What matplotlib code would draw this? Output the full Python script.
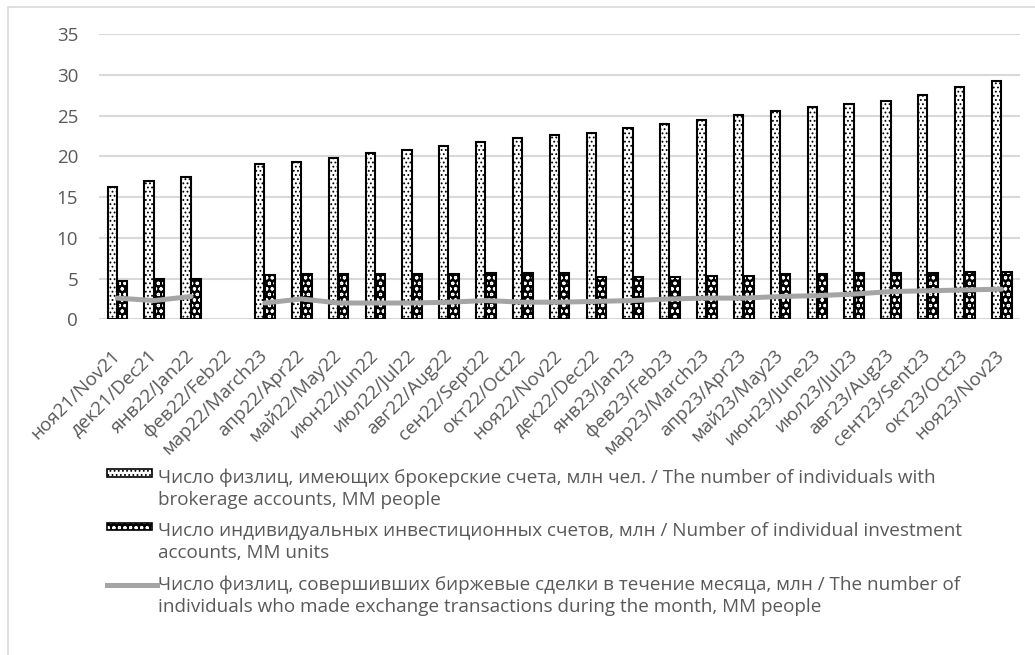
import numpy as np
import matplotlib
matplotlib.use('Agg')
import matplotlib.pyplot as plt
from matplotlib.patches import Rectangle
from matplotlib.lines import Line2D

plt.rcParams['font.family'] = ['Open Sans', 'DejaVu Sans']
plt.rcParams['hatch.linewidth'] = 0.8

months = ['ноя21/Nov21', 'дек21/Dec21', 'янв22/Jan22', 'фев22/Feb22', 'мар22/March23',
          'апр22/Apr22', 'май22/May22', 'июн22/Jun22', 'июл22/Jul22', 'авг22/Aug22',
          'сен22/Sept22', 'окт22/Oct22', 'ноя22/Nov22', 'дек22/Dec22', 'янв23/Jan23',
          'фев23/Feb23', 'мар23/March23', 'апр23/Apr23', 'май23/May23', 'июн23/June23',
          'июл23/Jul23', 'авг23/Aug23', 'сент23/Sent23', 'окт23/Oct23', 'ноя23/Nov23']

# brokerage accounts, MM people (no data for Feb22)
brokerage = [16.2, 17.0, 17.4, np.nan, 19.0, 19.3, 19.8, 20.4, 20.8, 21.2,
             21.7, 22.2, 22.6, 22.9, 23.5, 24.0, 24.5, 25.1, 25.6, 26.0,
             26.4, 26.8, 27.5, 28.5, 29.2]
# individual investment accounts, MM units
iis = [4.7, 4.9, 5.0, np.nan, 5.4, 5.5, 5.5, 5.5, 5.6, 5.6,
       5.7, 5.7, 5.7, 5.2, 5.2, 5.2, 5.3, 5.35, 5.5, 5.55,
       5.65, 5.7, 5.65, 5.8, 5.8]
# individuals who traded during the month, MM people
traders = [2.6, 2.3, 2.8, np.nan, 2.0, 2.5, 2.0, 2.0, 2.0, 2.1,
           2.3, 2.1, 2.1, 2.2, 2.3, 2.5, 2.6, 2.6, 2.8, 2.9,
           3.1, 3.4, 3.5, 3.6, 3.7]

labels = [['Число физлиц, имеющих брокерские счета, млн чел. / The number of individuals with',
           'brokerage accounts, MM people'],
          ['Число индивидуальных инвестиционных счетов, млн / Number of individual investment',
           'accounts, MM units'],
          ['Число физлиц, совершивших биржевые сделки в течение месяца, млн / The number of',
           'individuals who made exchange transactions during the month, MM people']]

txt = '#595959'
W, H = 1035, 655
fig = plt.figure(figsize=(W / 100, H / 100), dpi=100)
fig.patches.append(Rectangle((8 / W, -0.1), 1.2, 1.1 - 7 / H, transform=fig.transFigure,
                             fill=False, edgecolor='#d9d9d9', lw=1.2))

ax = fig.add_axes([99 / W, (H - 319.3) / H, (1020 - 99) / W, (319.3 - 34) / H])
x = np.arange(len(months))

ax.bar(x - 0.14, brokerage, 0.25, facecolor='white', edgecolor='black', hatch='....', lw=1.5, zorder=2)
ax.bar(x + 0.14, iis, 0.26, facecolor='black', edgecolor='white', hatch='ooo', lw=0, zorder=2)
ax.bar(x + 0.14, iis, 0.26, facecolor='none', edgecolor='black', lw=1.5, zorder=3)
ax.plot(x, traders, color='#a5a5a5', lw=3.6, solid_capstyle='round', zorder=4)

ax.set_xlim(-0.5, len(months) - 0.5)
ax.set_ylim(0, 35)
ax.set_yticks(range(0, 36, 5))
ax.yaxis.grid(True, color='#d9d9d9', lw=1.5, zorder=0)
ax.set_axisbelow(True)
for s in ax.spines.values():
    s.set_visible(False)
ax.tick_params(length=0, colors=txt)
ax.tick_params(axis='y', labelsize=13.5, pad=15)
ax.set_xticks(x)
ax.set_xticklabels(months, rotation=45, ha='right', va='center', rotation_mode='anchor', fontsize=13.5)
ax.tick_params(axis='x', pad=24)

# legend under the plot, laid out by hand (handles sit next to the first line)
def fx(px):
    return px / W

def fy(py):
    return 1 - py / H

base = [483, 536.5, 590]
for i, (l1, l2) in enumerate(labels):
    b = base[i]
    fig.text(fx(158), fy(b), l1, color=txt, fontsize=13.6, va='baseline')
    fig.text(fx(158), fy(b + 22), l2, color=txt, fontsize=13.6, va='baseline')

r = (fx(107), fy(base[0] - 6.5)), fx(152) - fx(107), fy(base[0] - 14) - fy(base[0] - 6.5)
fig.add_artist(Rectangle(*r, facecolor='white', edgecolor='black', hatch='....', lw=1.2,
                         transform=fig.transFigure))
r2 = (fx(107), fy(base[1] - 6.5)), r[1], r[2]
fig.add_artist(Rectangle(*r2, facecolor='black', edgecolor='white', hatch='ooo', lw=0,
                         transform=fig.transFigure))
fig.add_artist(Rectangle(*r2, facecolor='none', edgecolor='black', lw=1.2,
                         transform=fig.transFigure))
fig.add_artist(Line2D([fx(107), fx(157)], [fy(base[2] - 5.5)] * 2, color='#a5a5a5', lw=3.6,
                      transform=fig.transFigure))

fig.savefig('out.png', dpi=100)
